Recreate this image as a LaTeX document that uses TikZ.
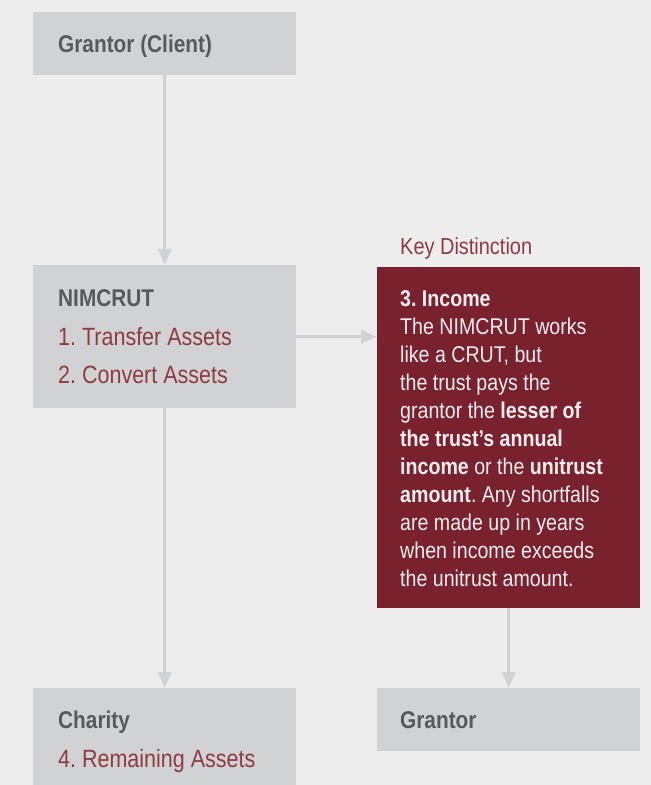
\documentclass[tikz,border=0pt]{standalone}
\usepackage{fontspec}
\setmainfont{Liberation Sans}[FakeStretch=0.86]
\usetikzlibrary{arrows.meta}
\definecolor{bgc}{HTML}{EDEDED}
\definecolor{boxc}{HTML}{D1D2D4}
\definecolor{darkt}{HTML}{58595B}
\definecolor{redt}{HTML}{8E3B41}
\definecolor{keyc}{HTML}{7A212E}
\definecolor{lightt}{HTML}{F7EEF0}
\tikzset{
  graybox/.style={fill=boxc, draw=none, anchor=north west, inner sep=0pt},
  keybox/.style={fill=keyc, draw=none, anchor=north west, inner sep=0pt},
  conn/.style={draw=boxc, line width=3pt, -{Triangle[length=16pt,width=13pt]}},
  lbl/.style={anchor=base west, inner sep=0pt, text=darkt, font=\fontsize{24.2}{28}\selectfont\bfseries},
  itm/.style={anchor=base west, inner sep=0pt, text=redt, font=\fontsize{25}{28}\selectfont},
  keyhead/.style={anchor=base west, inner sep=0pt, text=redt, font=\fontsize{23.2}{28}\selectfont},
  body/.style={anchor=base west, inner sep=0pt, text=lightt, font=\fontsize{22.8}{28}\selectfont},
}
\begin{document}
\frenchspacing
\begin{tikzpicture}[x=1pt,y=-1pt]
\fill[bgc] (0,0) rectangle (651,785);
\useasboundingbox (0,0) rectangle (651,785);
% boxes
\node[graybox, minimum width=263pt, minimum height=63pt] (gc) at (33,12) {};
\node[graybox, minimum width=263pt, minimum height=143pt] (nim) at (33,265) {};
\node[keybox, minimum width=263pt, minimum height=341pt] (key) at (377,267) {};
\node[graybox, minimum width=263pt, minimum height=97pt] (cha) at (33,688) {};
\node[graybox, minimum width=263pt, minimum height=63pt] (gr) at (377,688) {};
% connectors
\draw[conn] (gc.south) -- (nim.north);
\draw[conn] (nim.east) -- (nim.east -| key.west);
\draw[conn] (nim.south) -- (cha.north);
\draw[conn] (key.south) -- (gr.north);
% texts
\node[lbl] (t1) at (58,52) {Grantor (Client)};
\node[lbl] (t2) at (58,306) {NIMCRUT};
\node[itm] (t3) at (58,345) {1. Transfer Assets};
\node[itm] (t4) at (58,383) {2. Convert Assets};
\node[keyhead] (t5) at (400,254) {Key Distinction};
\node[body, font=\fontsize{22.8}{28}\selectfont\bfseries] (b0) at (400,306) {3. Income};
\node[body] (b1) at (400,334) {The NIMCRUT works};
\node[body] (b2) at (400,362) {like a CRUT, but};
\node[body] (b3) at (400,390) {the trust pays the};
\node[body] (b4) at (400,418) {grantor the \textbf{lesser of}};
\node[body] (b5) at (400,446) {\textbf{the trust’s annual}};
\node[body] (b6) at (400,474) {\textbf{income} or the \textbf{unitrust}};
\node[body] (b7) at (400,502) {\textbf{amount}. Any shortfalls};
\node[body] (b8) at (400,530) {are made up in years};
\node[body] (b9) at (400,558) {when income exceeds};
\node[body] (b10) at (400,586) {the unitrust amount.};
\node[lbl] (t6) at (58,728) {Charity};
\node[itm] (t7) at (58,767) {4. Remaining Assets};
\node[lbl] (t8) at (400,728) {Grantor};
\end{tikzpicture}
\end{document}
